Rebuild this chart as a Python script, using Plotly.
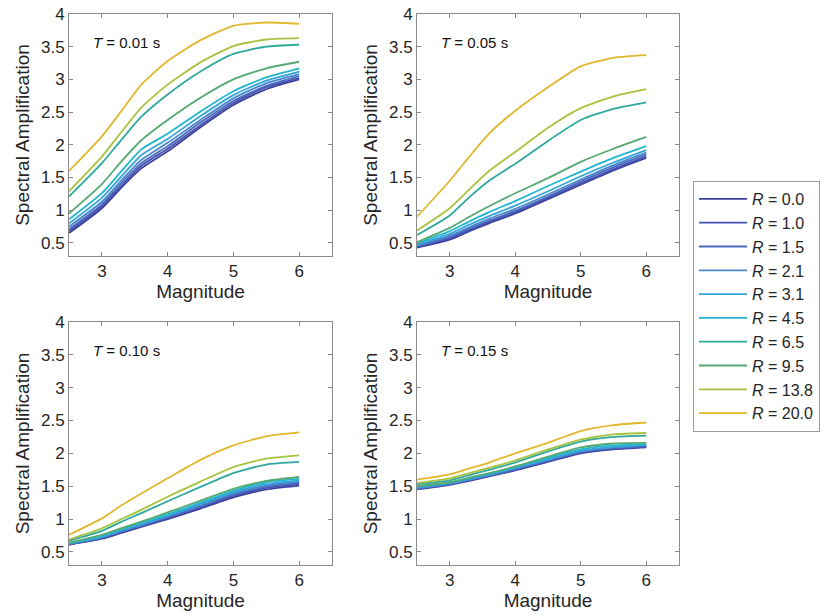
import plotly.graph_objects as go

# ---------------- data ----------------
magnitude = [2.5, 3.0, 3.3, 3.6, 4.0, 4.5, 5.0, 5.5, 6.0]
distance_labels = ["0.0", "1.0", "1.5", "2.1", "3.1", "4.5", "6.5", "9.5", "13.8", "20.0"]
period_labels = ["0.01", "0.05", "0.10", "0.15"]

# rows ordered as distance_labels
sa_T001 = [
    [0.65, 1.03, 1.35, 1.64, 1.90, 2.27, 2.61, 2.85, 3.00],
    [0.68, 1.06, 1.38, 1.68, 1.94, 2.30, 2.64, 2.88, 3.02],
    [0.71, 1.09, 1.42, 1.72, 1.98, 2.34, 2.67, 2.90, 3.05],
    [0.75, 1.13, 1.46, 1.77, 2.03, 2.38, 2.71, 2.94, 3.08],
    [0.80, 1.19, 1.52, 1.84, 2.09, 2.44, 2.76, 2.98, 3.12],
    [0.86, 1.26, 1.60, 1.93, 2.17, 2.51, 2.82, 3.03, 3.17],
    [1.21, 1.72, 2.08, 2.43, 2.77, 3.12, 3.39, 3.50, 3.53],
    [0.95, 1.40, 1.75, 2.07, 2.38, 2.72, 3.00, 3.17, 3.27],
    [1.29, 1.82, 2.20, 2.57, 2.92, 3.26, 3.51, 3.61, 3.63],
    [1.60, 2.13, 2.52, 2.92, 3.28, 3.60, 3.82, 3.87, 3.85],
]
sa_T005 = [
    [0.43, 0.55, 0.68, 0.80, 0.95, 1.17, 1.39, 1.61, 1.80],
    [0.44, 0.57, 0.70, 0.82, 0.97, 1.19, 1.41, 1.63, 1.82],
    [0.45, 0.59, 0.72, 0.84, 0.99, 1.21, 1.44, 1.66, 1.85],
    [0.46, 0.61, 0.74, 0.87, 1.02, 1.24, 1.47, 1.69, 1.88],
    [0.47, 0.64, 0.78, 0.91, 1.07, 1.29, 1.52, 1.73, 1.92],
    [0.49, 0.68, 0.83, 0.97, 1.14, 1.37, 1.59, 1.80, 1.98],
    [0.62, 0.92, 1.20, 1.45, 1.71, 2.06, 2.38, 2.55, 2.65],
    [0.51, 0.73, 0.90, 1.06, 1.26, 1.49, 1.74, 1.94, 2.12],
    [0.69, 1.03, 1.32, 1.60, 1.89, 2.26, 2.56, 2.74, 2.85],
    [0.90, 1.45, 1.82, 2.17, 2.52, 2.88, 3.20, 3.33, 3.37],
]
sa_T010 = [
    [0.61, 0.70, 0.79, 0.88, 1.00, 1.16, 1.33, 1.45, 1.51],
    [0.61, 0.71, 0.80, 0.89, 1.01, 1.18, 1.35, 1.47, 1.53],
    [0.62, 0.72, 0.81, 0.90, 1.03, 1.19, 1.37, 1.49, 1.55],
    [0.62, 0.72, 0.82, 0.91, 1.04, 1.21, 1.39, 1.51, 1.57],
    [0.63, 0.73, 0.83, 0.92, 1.05, 1.23, 1.41, 1.53, 1.59],
    [0.63, 0.74, 0.84, 0.94, 1.07, 1.25, 1.43, 1.56, 1.61],
    [0.67, 0.82, 0.96, 1.09, 1.27, 1.49, 1.70, 1.83, 1.87],
    [0.64, 0.76, 0.86, 0.96, 1.10, 1.28, 1.46, 1.58, 1.64],
    [0.69, 0.86, 1.00, 1.14, 1.34, 1.57, 1.79, 1.92, 1.97],
    [0.76, 1.01, 1.21, 1.39, 1.62, 1.90, 2.12, 2.26, 2.32],
]
sa_T015 = [
    [1.45, 1.52, 1.58, 1.65, 1.74, 1.87, 2.00, 2.06, 2.09],
    [1.46, 1.53, 1.59, 1.66, 1.75, 1.88, 2.01, 2.07, 2.10],
    [1.46, 1.53, 1.60, 1.66, 1.76, 1.89, 2.02, 2.08, 2.11],
    [1.47, 1.54, 1.60, 1.67, 1.77, 1.90, 2.03, 2.09, 2.12],
    [1.48, 1.55, 1.61, 1.68, 1.78, 1.91, 2.04, 2.10, 2.13],
    [1.49, 1.55, 1.62, 1.69, 1.79, 1.93, 2.06, 2.12, 2.14],
    [1.53, 1.59, 1.67, 1.75, 1.86, 2.03, 2.18, 2.25, 2.27],
    [1.50, 1.56, 1.63, 1.70, 1.80, 1.95, 2.09, 2.15, 2.16],
    [1.55, 1.62, 1.70, 1.78, 1.89, 2.06, 2.21, 2.29, 2.31],
    [1.60, 1.68, 1.77, 1.86, 2.00, 2.16, 2.34, 2.43, 2.47],
]
x_ticks = [3, 4, 5, 6]
y_ticks = [0.5, 1, 1.5, 2, 2.5, 3, 3.5, 4]

# ---------------- style ----------------
colors = ["#3f3f9f", "#4452ae", "#4a68bd", "#4a86cc", "#35a4dc",
          "#22b5d0", "#2fa89e", "#55a872", "#a9c23f", "#e1b82d"]
FONT = "Arial, 'Liberation Sans', Helvetica, sans-serif"
TXT = "#262626"
AX = "#8a8a8a"
W, H = 829, 614

panels = [sa_T001, sa_T005, sa_T010, sa_T015]
# pixel boxes in page coordinates (left, right, top, bottom)
boxes = [(69, 332, 14, 256), (417, 679, 14, 256),
         (69, 332, 322, 565), (417, 679, 322, 565)]

fig = go.Figure()
for p, data in enumerate(panels):
    ax = "" if p == 0 else str(p + 1)
    for i, row in enumerate(data):
        fig.add_trace(go.Scatter(
            x=magnitude, y=row, mode="lines",
            line=dict(color=colors[i], width=1.8, shape="spline", smoothing=0.6),
            name="<i>R</i> = " + distance_labels[i],
            showlegend=(p == 0),
            xaxis="x" + ax, yaxis="y" + ax,
        ))
    l, r, t, b = boxes[p]
    common = dict(showline=True, linecolor=AX, linewidth=1, mirror="ticks",
                  ticks="inside", ticklen=4, tickcolor=AX, tickwidth=1,
                  showgrid=False, zeroline=False, automargin=False,
                  ticklabeloverflow="allow",
                  tickfont=dict(family=FONT, size=17, color=TXT))
    fig.update_layout(**{
        "xaxis" + ax: dict(domain=[l / W, r / W], range=[2.5, 6.5],
                           tickvals=x_ticks, anchor="y" + ax,
                           title=dict(text="Magnitude", standoff=4,
                                      font=dict(family=FONT, size=19, color=TXT)),
                           **common),
        "yaxis" + ax: dict(domain=[1 - b / H, 1 - t / H], range=[0.3, 4],
                           tickvals=y_ticks, anchor="x" + ax,
                           title=dict(text="Spectral Amplification", standoff=6,
                                      font=dict(family=FONT, size=19, color=TXT)),
                           **common),
    })
    fig.add_annotation(x=2.83, y=3.56, xref="x" + ax, yref="y" + ax,
                       text="<i>T</i> = " + period_labels[p] + " s",
                       showarrow=False, xanchor="left", yanchor="middle",
                       font=dict(family=FONT, size=15, color="#111111"))

fig.update_layout(
    width=W, height=H,
    margin=dict(l=0, r=0, t=0, b=0, autoexpand=False),
    paper_bgcolor="white", plot_bgcolor="white",
    showlegend=True,
    legend=dict(x=693 / W, y=1 - 181 / H, xanchor="left", yanchor="top",
                bordercolor="#9a9a9a", borderwidth=1, bgcolor="white",
                font=dict(family=FONT, size=16, color=TXT),
                itemwidth=48, tracegroupgap=0),
)

# remove the browser's default page margin so the figure fills the window
fig.write_html("out.html", config={"displayModeBar": False},
               post_script="document.body.style.margin='0px';")
